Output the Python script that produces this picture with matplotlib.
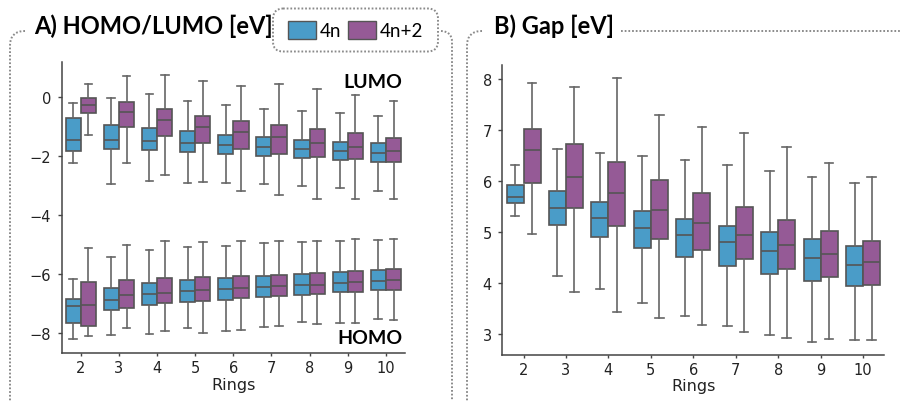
import matplotlib
matplotlib.use("Agg")
import matplotlib.pyplot as plt
from matplotlib.path import Path
from matplotlib.patches import PathPatch, FancyBboxPatch, Patch
from matplotlib.transforms import Affine2D

# ---------------- data ----------------
rings = [2, 3, 4, 5, 6, 7, 8, 9, 10]
groups = ["4n", "4n+2"]
colors = {"4n": "#4a9cc8", "4n+2": "#955a96"}

# LUMO: whislo, q1, med, q3, whishi
lumo_4n_lo = [-2.21, -2.93, -2.83, -2.92, -2.92, -2.94, -3.00, -3.09, -3.16]
lumo_4n_q1 = [-1.83, -1.75, -1.80, -1.85, -1.93, -1.99, -2.06, -2.11, -2.19]
lumo_4n_med = [-1.46, -1.43, -1.48, -1.54, -1.63, -1.67, -1.74, -1.81, -1.88]
lumo_4n_q3 = [-0.71, -0.94, -1.04, -1.13, -1.26, -1.36, -1.43, -1.51, -1.56]
lumo_4n_hi = [-0.20, -0.02, 0.11, -0.11, -0.27, -0.39, -0.47, -0.54, -0.62]

lumo_4n2_lo = [-1.27, -2.22, -2.63, -2.87, -3.19, -3.31, -3.43, -3.45, -3.45]
lumo_4n2_q1 = [-0.54, -1.00, -1.31, -1.54, -1.74, -1.91, -2.01, -2.09, -2.19]
lumo_4n2_med = [-0.26, -0.48, -0.76, -0.99, -1.17, -1.36, -1.54, -1.69, -1.81]
lumo_4n2_q3 = [-0.03, -0.15, -0.39, -0.62, -0.79, -0.94, -1.08, -1.22, -1.37]
lumo_4n2_hi = [0.47, 0.72, 0.75, 0.55, 0.39, 0.45, 0.28, 0.09, -0.13]

# HOMO
homo_4n_lo = [-8.20, -8.05, -8.03, -7.81, -7.93, -7.79, -7.62, -7.64, -7.51]
homo_4n_q1 = [-7.65, -7.21, -7.03, -6.93, -6.86, -6.77, -6.69, -6.61, -6.54]
homo_4n_med = [-7.07, -6.88, -6.68, -6.56, -6.50, -6.42, -6.37, -6.28, -6.23]
homo_4n_q3 = [-6.85, -6.47, -6.28, -6.18, -6.12, -6.07, -6.00, -5.92, -5.86]
homo_4n_hi = [-6.16, -5.41, -5.18, -5.07, -5.03, -4.95, -4.90, -4.87, -4.84]

homo_4n2_lo = [-8.09, -7.83, -7.94, -8.00, -7.89, -7.75, -7.69, -7.65, -7.55]
homo_4n2_q1 = [-7.77, -7.14, -6.99, -6.89, -6.82, -6.73, -6.67, -6.60, -6.52]
homo_4n2_med = [-7.05, -6.70, -6.62, -6.54, -6.46, -6.40, -6.35, -6.25, -6.20]
homo_4n2_q3 = [-6.26, -6.19, -6.12, -6.09, -6.05, -6.01, -5.95, -5.89, -5.83]
homo_4n2_hi = [-5.10, -5.01, -4.87, -4.90, -4.87, -4.87, -4.87, -4.81, -4.79]

# Gap
gap_4n_lo = [5.30, 4.14, 3.88, 3.61, 3.35, 3.15, 2.98, 2.83, 2.87]
gap_4n_q1 = [5.56, 5.14, 4.90, 4.69, 4.50, 4.33, 4.18, 4.04, 3.93]
gap_4n_med = [5.69, 5.46, 5.27, 5.08, 4.94, 4.80, 4.63, 4.48, 4.35]
gap_4n_q3 = [5.92, 5.80, 5.58, 5.40, 5.25, 5.12, 4.99, 4.86, 4.73]
gap_4n_hi = [6.31, 6.63, 6.55, 6.49, 6.41, 6.31, 6.20, 6.08, 5.95]

gap_4n2_lo = [4.95, 3.82, 3.42, 3.30, 3.17, 3.03, 2.92, 2.90, 2.88]
gap_4n2_q1 = [5.95, 5.46, 5.12, 4.86, 4.65, 4.46, 4.27, 4.11, 3.96]
gap_4n2_med = [6.61, 6.07, 5.77, 5.42, 5.17, 4.93, 4.74, 4.56, 4.40]
gap_4n2_q3 = [7.02, 6.72, 6.37, 6.01, 5.77, 5.49, 5.24, 5.01, 4.82]
gap_4n2_hi = [7.92, 7.84, 8.02, 7.29, 7.05, 6.93, 6.67, 6.35, 6.08]

# ---------------- helpers ----------------
LINE = "#555555"


def stats(lo, q1, med, q3, hi):
    return [dict(whislo=a, q1=b, med=c, q3=d, whishi=e, fliers=[])
            for a, b, c, d, e in zip(lo, q1, med, q3, hi)]


def draw_boxes(ax, st, offset, color):
    pos = [i + offset for i in range(len(rings))]
    ax.bxp(st, positions=pos, widths=0.4, patch_artist=True, showfliers=False,
           capwidths=0.2,
           boxprops=dict(facecolor=color, edgecolor=LINE, linewidth=1.2),
           medianprops=dict(color=LINE, linewidth=1.2),
           whiskerprops=dict(color="#666666", linewidth=1.2),
           capprops=dict(color="#666666", linewidth=1.2),
           manage_ticks=False)


def style_ax(ax):
    for s in ("top", "right"):
        ax.spines[s].set_visible(False)
    for s in ("left", "bottom"):
        ax.spines[s].set_color("#444444")
        ax.spines[s].set_linewidth(1.1)
    ax.tick_params(axis="both", labelsize=10.5, colors="#444444", labelcolor="#222222",
                   width=1.0)
    ax.tick_params(axis="x", length=2.5, pad=2.5)
    ax.tick_params(axis="y", length=3.0, pad=4.5)
    ax.set_xticks(range(len(rings)))
    ax.set_xticklabels([str(r) for r in rings])
    ax.set_xlim(-0.5, len(rings) - 0.5)
    ax.set_xlabel("Rings", fontsize=11.5, color="#222222", labelpad=1)


W, H = 900, 402
fig = plt.figure(figsize=(9, 4.02), dpi=100)
fig.patch.set_facecolor("white")

axA = fig.add_axes([61.7 / W, 1 - 354.3 / H, (405 - 61.7) / W, (354.3 - 63.3) / H])
axB = fig.add_axes([502.3 / W, 1 - 356 / H, (884.3 - 502.3) / W, (356 - 65.7) / H])

draw_boxes(axA, stats(lumo_4n_lo, lumo_4n_q1, lumo_4n_med, lumo_4n_q3, lumo_4n_hi), -0.2, colors["4n"])
draw_boxes(axA, stats(lumo_4n2_lo, lumo_4n2_q1, lumo_4n2_med, lumo_4n2_q3, lumo_4n2_hi), 0.2, colors["4n+2"])
draw_boxes(axA, stats(homo_4n_lo, homo_4n_q1, homo_4n_med, homo_4n_q3, homo_4n_hi), -0.2, colors["4n"])
draw_boxes(axA, stats(homo_4n2_lo, homo_4n2_q1, homo_4n2_med, homo_4n2_q3, homo_4n2_hi), 0.2, colors["4n+2"])
style_ax(axA)
axA.set_ylim(-8.68, 1.19)
axA.set_yticks([-8, -6, -4, -2, 0])
axA.text(8.43, 0.55, "LUMO", ha="right", va="center", fontsize=14,
         fontweight="bold", family="Lato")
axA.text(8.43, -8.16, "HOMO", ha="right", va="center", fontsize=14,
         fontweight="bold", family="Lato")

draw_boxes(axB, stats(gap_4n_lo, gap_4n_q1, gap_4n_med, gap_4n_q3, gap_4n_hi), -0.2, colors["4n"])
draw_boxes(axB, stats(gap_4n2_lo, gap_4n2_q1, gap_4n2_med, gap_4n2_q3, gap_4n2_hi), 0.2, colors["4n+2"])
style_ax(axB)
axB.set_ylim(2.58, 8.28)
axB.set_yticks([3, 4, 5, 6, 7, 8])

# ---------------- frames (pixel coords, y down) ----------------
pix = Affine2D().scale(1 / W, -1 / H).translate(0, 1) + fig.transFigure
dot = dict(edgecolor="#8a8a8a", facecolor="none", linewidth=1.4,
           linestyle=(0, (0.9, 1.0)), transform=pix, clip_on=False)


def add_path(verts, codes):
    fig.add_artist(PathPatch(Path(verts, codes), **dot))


M, L, C = Path.MOVETO, Path.LINETO, Path.CURVE3
# panel A left
add_path([(25, 32), (10, 32), (10, 47), (10, 430)], [M, C, C, L])
# panel A right
add_path([(441, 32), (452, 32), (452, 43), (452, 430)], [M, C, C, L])
# panel B left + top
add_path([(482, 32), (467, 32), (467, 47), (467, 430)], [M, C, C, L])
add_path([(621, 32), (905, 32)], [M, L])
# legend box
fig.add_artist(FancyBboxPatch((273, 9.5), 165, 43,
                              boxstyle="round,pad=0,rounding_size=10", **dot))

# ---------------- titles ----------------
fig.text(34 / W, 1 - 26 / H, "A) HOMO/LUMO [eV]", ha="left", va="center",
         fontsize=17, fontweight="bold", family="Lato")
fig.text(494 / W, 1 - 26 / H, "B) Gap [eV]", ha="left", va="center",
         fontsize=17, fontweight="bold", family="Lato")

# ---------------- legend ----------------
handles = [Patch(facecolor=colors[g], edgecolor=LINE, linewidth=1.0, label=g) for g in groups]
fig.legend(handles=handles, loc="center", bbox_to_anchor=(355.5 / W, 1 - 31 / H),
           ncol=2, frameon=False, prop=dict(family="Lato", size=13.5),
           handlelength=1.5, handleheight=1.1, handletextpad=0.2,
           columnspacing=0.35, borderpad=0, borderaxespad=0)

fig.savefig("out.png", dpi=100)
